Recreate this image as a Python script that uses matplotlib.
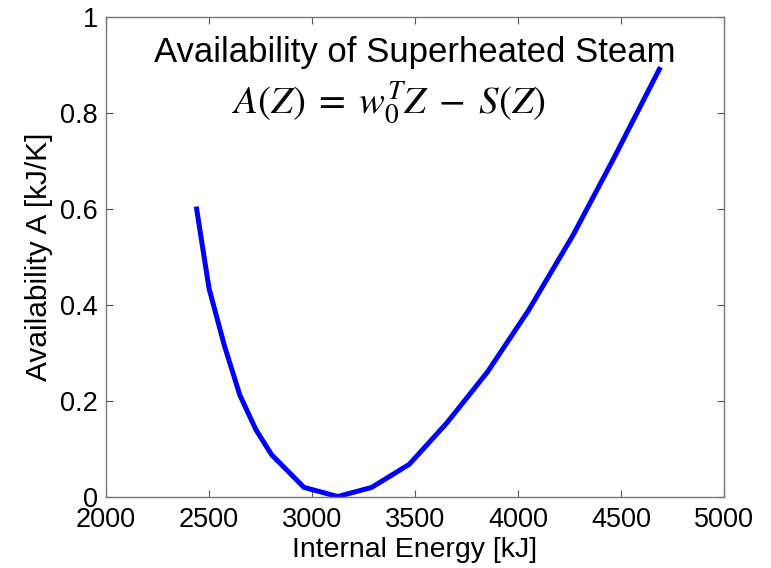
import numpy as np
import matplotlib.pyplot as plt

# internal energy [kJ] and availability [kJ/K]
energy = [2440, 2500, 2575, 2650, 2728, 2804, 2961, 3125, 3290, 3472,
          3654, 3851, 4050, 4268, 4463, 4686]
availability = [0.600, 0.435, 0.315, 0.212, 0.140, 0.088, 0.020, 0.001,
                0.020, 0.068, 0.154, 0.260, 0.388, 0.546, 0.704, 0.891]

xticks = [2000, 2500, 3000, 3500, 4000, 4500, 5000]
yticks = [0, 0.2, 0.4, 0.6, 0.8, 1]
ytick_labels = ['0', '0.2', '0.4', '0.6', '0.8', '1']

plt.rcParams['font.family'] = ['Liberation Sans', 'DejaVu Sans']
plt.rcParams['mathtext.fontset'] = 'stix'

fig = plt.figure(figsize=(7.71, 5.68), dpi=100)
ax = fig.add_axes([0.1375, 0.125, 0.8015, 0.845])

ax.plot(energy, availability, color=(0, 0, 1), linewidth=3.6,
        solid_joinstyle='miter')

ax.set_xlim(2000, 5000)
ax.set_ylim(0, 1)
ax.set_xticks(xticks)
ax.set_xticklabels([str(t) for t in xticks])
ax.set_yticks(yticks)
ax.set_yticklabels(ytick_labels)
ax.tick_params(direction='in', top=True, right=True, length=5,
               width=0.8, color='#555555', labelsize=19.5, pad=6)
ax.tick_params(axis='x', pad=7)
for s in ax.spines.values():
    s.set_color('#777777')
    s.set_linewidth(1.0)

ax.set_xlabel('Internal Energy [kJ]', fontsize=20.5, labelpad=3)
ax.set_ylabel('Availability A [kJ/K]', fontsize=21.5, labelpad=5)

ax.text(0.5, 0.907, 'Availability of Superheated Steam', transform=ax.transAxes,
        ha='center', va='baseline', fontsize=25)
ax.text(0.458, 0.80, r'$A(Z)\;=\;w_0^T Z\;-\;S(Z)$', transform=ax.transAxes,
        ha='center', va='baseline', fontsize=28)

fig.savefig('out.png', dpi=100)
